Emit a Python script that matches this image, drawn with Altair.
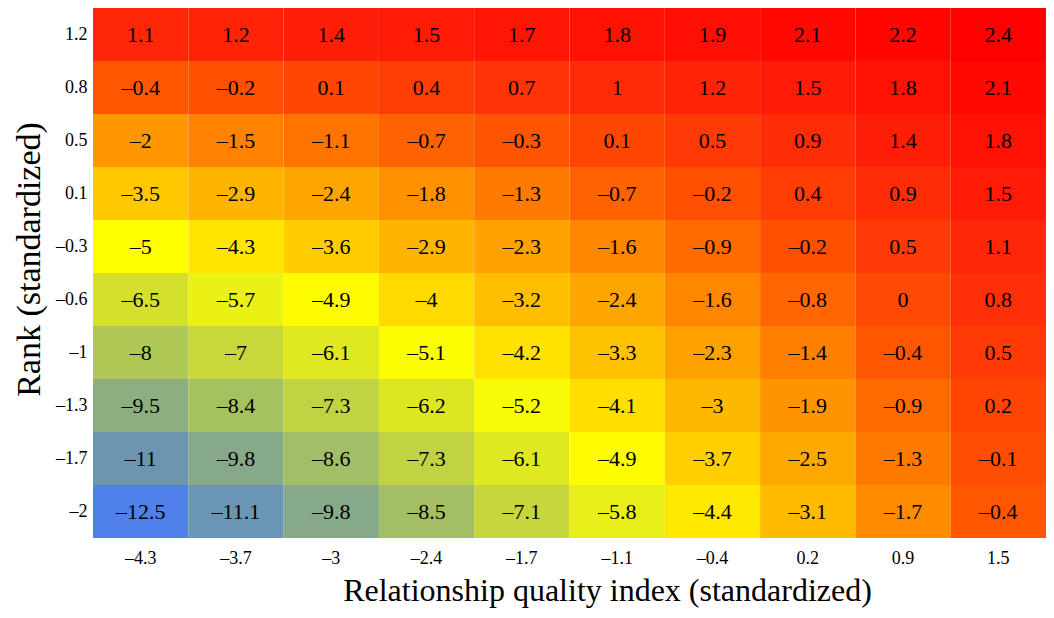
import altair as alt
import pandas as pd

x_labels = ["-4.3", "-3.7", "-3", "-2.4", "-1.7", "-1.1", "-0.4", "0.2", "0.9", "1.5"]
y_labels = ["1.2", "0.8", "0.5", "0.1", "-0.3", "-0.6", "-1", "-1.3", "-1.7", "-2"]

row_1_2 = [1.1, 1.2, 1.4, 1.5, 1.7, 1.8, 1.9, 2.1, 2.2, 2.4]
row_0_8 = [-0.4, -0.2, 0.1, 0.4, 0.7, 1, 1.2, 1.5, 1.8, 2.1]
row_0_5 = [-2, -1.5, -1.1, -0.7, -0.3, 0.1, 0.5, 0.9, 1.4, 1.8]
row_0_1 = [-3.5, -2.9, -2.4, -1.8, -1.3, -0.7, -0.2, 0.4, 0.9, 1.5]
row_m0_3 = [-5, -4.3, -3.6, -2.9, -2.3, -1.6, -0.9, -0.2, 0.5, 1.1]
row_m0_6 = [-6.5, -5.7, -4.9, -4, -3.2, -2.4, -1.6, -0.8, 0, 0.8]
row_m1 = [-8, -7, -6.1, -5.1, -4.2, -3.3, -2.3, -1.4, -0.4, 0.5]
row_m1_3 = [-9.5, -8.4, -7.3, -6.2, -5.2, -4.1, -3, -1.9, -0.9, 0.2]
row_m1_7 = [-11, -9.8, -8.6, -7.3, -6.1, -4.9, -3.7, -2.5, -1.3, -0.1]
row_m2 = [-12.5, -11.1, -9.8, -8.5, -7.1, -5.8, -4.4, -3.1, -1.7, -0.4]

rows = [row_1_2, row_0_8, row_0_5, row_0_1, row_m0_3, row_m0_6, row_m1, row_m1_3, row_m1_7, row_m2]

color_domain = [-12.5, -11, -9.5, -8, -6.5, -5, -3.5, -2, -0.5, 1, 2.4]
color_range = ["#5080ea", "#6c96b0", "#8cae80", "#b0c855", "#d4e02c", "#ffff00",
               "#ffc800", "#ff9800", "#ff5a00", "#ff2a08", "#ff0000"]


def dash(s):
    return s.replace("-", "\u2013")


def fmt(v):
    s = ("%g" % v)
    if s == "-0":
        s = "0"
    return dash(s)


xs = [dash(s) for s in x_labels]
ys = [dash(s) for s in y_labels]

records = []
for yi, row in enumerate(rows):
    for xi, v in enumerate(row):
        records.append({"x": xs[xi], "y": ys[yi], "v": v, "label": fmt(v)})
df = pd.DataFrame(records)

FONT = "Liberation Serif"

base = alt.Chart(df).encode(
    x=alt.X("x:N", sort=xs,
            scale=alt.Scale(paddingInner=0, paddingOuter=0),
            axis=alt.Axis(title="Relationship quality index (standardized)",
                          labelAngle=0, ticks=False, domain=False,
                          labelFont=FONT, labelFontSize=18, labelColor="#000",
                          labelBaseline="middle", labelPadding=20,
                          titleFont=FONT, titleFontSize=32, titleFontWeight="normal",
                          titleColor="#000", titleX=514, titleY=62,
                          titleBaseline="alphabetic")),
    y=alt.Y("y:N", sort=ys,
            scale=alt.Scale(paddingInner=0, paddingOuter=0),
            axis=alt.Axis(title="Rank (standardized)",
                          ticks=False, domain=False,
                          labelFont=FONT, labelFontSize=18, labelColor="#000",
                          labelPadding=6,
                          titleFont=FONT, titleFontSize=34, titleFontWeight="normal",
                          titleColor="#000", titleX=-64, titleY=251,
                          titleAngle=-90, titleBaseline="middle")),
)

rects = base.mark_rect(stroke=None).encode(
    color=alt.Color("v:Q",
                    scale=alt.Scale(domain=color_domain, range=color_range,
                                    interpolate="rgb"),
                    legend=None)
)

texts = base.mark_text(font=FONT, fontSize=22, color="#000", baseline="middle").encode(
    text="label:N"
)

chart = (rects + texts).properties(
    width=953, height=530,
    autosize=alt.AutoSizeParams(type="none"),
    padding={"left": 85, "top": 0, "right": 0, "bottom": 80},
).configure_view(stroke=None)

chart.save("out.html", embed_options={"renderer": "svg", "actions": False})
